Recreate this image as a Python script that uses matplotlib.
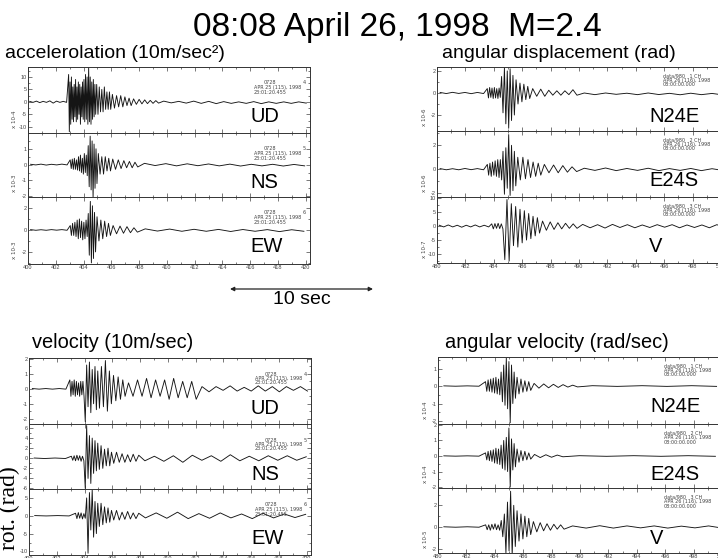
import matplotlib
matplotlib.use("Agg")
import matplotlib.pyplot as plt
import numpy as np
from matplotlib.ticker import MultipleLocator

W, H = 718, 558

title = "08:08 April 26, 1998  M=2.4"

# each trace: (t_start, t_end, peak values) segments
acc_ud = [
    (400.0, 402.9, [0.2, -0.2, 0.3, -0.3, 0.2, -0.2, 0.4, -0.5, 0.3, -0.2, 0.2, -0.2]),
    (402.9, 403.3, [11, -12, 8, -9, 10, -7, 6, -8]),
    (403.3, 404.0, [7, -6, 9, -8, 6, -7, 8, -5, 7, -9, 6, -6, 8, -7]),
    (404.0, 404.9, [9, -8, 11, -7, 10, -9, 14, -8, 10, -9, 8, -7, 9, -6, 7, -5]),
    (404.9, 406.0, [7, -5, 6, -4, 5, -4, 6, -3, 4, -3, 4, -3]),
    (406.0, 407.5, [3, -2.5, 2.5, -2, 2.5, -2, 2, -1.5, 1.5, -1.5]),
    (407.5, 409.5, [1.2, -1, 1, -0.8, 0.8, -0.7, 0.6, -0.6, 0.5, -0.5]),
    (409.5, 420.3, [0.3, -0.4, 0.2, -0.5, 0.3, -0.6, 0.2, -0.7, 0.1, -0.6,
                    0.0, -0.6, 0.1, -0.7, 0.0, -0.6, 0.0, -0.6, 0.0, -0.5]),
]
acc_ns = [
    (400.0, 403.0, [0.02, -0.02, 0.03, -0.03, 0.02, -0.02, 0.03, -0.02]),
    (403.0, 403.6, [0.3, -0.25, 0.35, -0.3, 0.4, -0.3, 0.3, -0.35]),
    (403.6, 404.3, [0.5, -0.4, 0.6, -0.5, 0.4, -0.6, 0.7, -0.5, 0.6, -0.7]),
    (404.3, 405.0, [1.2, -1.4, 1.8, -1.6, 1.5, -2.1, 1.3, -1.5, 1.0, -1.2]),
    (405.0, 406.0, [0.7, -0.6, 0.5, -0.6, 0.5, -0.4, 0.4, -0.4]),
    (406.0, 408.0, [0.35, -0.3, 0.3, -0.25, 0.25, -0.2, 0.2, -0.2, 0.15, -0.15]),
    (408.0, 420.3, [0.08, -0.06, 0.06, -0.08, 0.05, -0.07, 0.04, -0.08,
                    0.03, -0.09, 0.02, -0.08, 0.02, -0.09, 0.01, -0.08]),
]
acc_ew = [
    (400.0, 403.0, [0.03, -0.03, 0.02, -0.03, 0.03, -0.02, 0.03, -0.03]),
    (403.0, 403.5, [0.4, -0.5, 0.6, -0.5, 0.7, -0.6]),
    (403.5, 404.3, [0.9, -0.8, 1.0, -0.7, 0.8, -0.9, 0.7, -0.8, 0.9, -0.6]),
    (404.3, 404.9, [1.5, -2.3, 2.6, -3.0, 2.2, -2.6, 1.6, -2.0]),
    (404.9, 406.0, [1.2, -1.0, 0.9, -0.8, 0.8, -0.6, 0.6, -0.5]),
    (406.0, 408.0, [0.4, -0.35, 0.35, -0.3, 0.3, -0.25, 0.2, -0.2]),
    (408.0, 420.3, [0.1, -0.1, 0.08, -0.12, 0.06, -0.12, 0.05, -0.14,
                    0.04, -0.12, 0.03, -0.15, 0.02, -0.12]),
]

disp_n24e = [
    (480.0, 483.5, [0.05, -0.05, 0.06, -0.04, 0.05, -0.06, 0.05, -0.05]),
    (483.5, 484.5, [0.4, -0.45, 0.5, -0.4, 0.45, -0.5, 0.5, -0.45, 0.4, -0.5, 0.45, -0.4]),
    (484.5, 485.5, [1.5, -1.8, 2.3, -2.8, 2.0, -3.2, 2.2, -2.5, 1.6, -2.0]),
    (485.5, 486.6, [1.2, -1.0, 0.9, -0.8, 0.8, -0.6, 0.6, -0.5]),
    (486.6, 490.0, [0.4, -0.3, 0.35, -0.3, 0.25, -0.2, 0.2, -0.2, 0.2, -0.15, 0.3, -0.2]),
    (490.0, 500.5, [0.0, -0.15, 0.0, -0.12, -0.02, -0.15, 0.0, -0.14,
                    -0.03, -0.16, -0.02, -0.15, -0.04, -0.17]),
]
disp_e24s = [
    (480.0, 483.5, [0.05, -0.05, 0.04, -0.05, 0.06, -0.04, 0.05, -0.05]),
    (483.5, 484.6, [0.4, -0.5, 0.5, -0.6, 0.6, -0.5, 0.7, -0.6, 0.8, -0.7, 0.8, -0.9]),
    (484.6, 485.6, [1.5, -2.1, 1.8, -1.6, 2.9, -2.2, 2.0, -1.8, 1.5, -1.4]),
    (485.6, 487.4, [1.0, -0.9, 1.0, -0.8, 0.8, -0.7, 0.6, -0.6, 0.5, -0.5]),
    (487.4, 490.0, [0.4, -0.3, 0.35, -0.3, 0.3, -0.25, 0.2, -0.2]),
    (490.0, 500.5, [0.08, -0.1, 0.1, -0.12, 0.06, -0.1, 0.08, -0.12,
                    0.05, -0.1, 0.06, -0.12, 0.04, -0.1]),
]
disp_v = [
    (480.0, 483.8, [0.3, -0.3, 0.4, -0.3, 0.3, -0.4, 0.3, -0.3, 0.4, -0.3, 0.3, -0.3]),
    (483.8, 484.7, [0.8, -1.0, 0.9, -0.8, 1.0, -0.9, 0.8, -1.0]),
    (484.7, 487.3, [-12, 9.5, -12.5, 8, -7, 7, -7.5, 6, -6, 5.5, -5, 4.5,
                    -4.5, 3.5, -3.5, 3, -2.5]),
    (487.3, 490.0, [1.8, -1.5, 1.5, -1.2, 1.2, -1.0, 1.0, -0.8, 0.8, -0.8]),
    (490.0, 500.5, [0.6, -0.6, 0.5, -0.7, 0.6, -0.5, 0.5, -0.6, 0.4, -0.5,
                    0.5, -0.4, 0.5, -0.6, 0.4, -0.5, 0.4, -0.6, 0.5, -0.4]),
]

vel_ud = [
    (400.0, 402.9, [0.02, -0.02, 0.02, -0.02, 0.02, -0.02]),
    (402.9, 404.0, [0.6, -0.5, 0.5, -0.4, 0.6, -0.5, 0.5, -0.4, 0.4, -0.5, 0.5, -0.4, 0.5, -0.5]),
    (404.0, 405.0, [-2.2, 1.6, -1.2, 1.8, -1.6, 1.3, -1.0, 1.5, -1.4, 1.2]),
    (405.0, 406.0, [-1.3, 1.5, -1.2, 1.9, -1.5, 1.2, -1.0]),
    (406.0, 407.0, [0.9, -0.8, 0.8, -0.7, 0.6, -0.5]),
    (407.0, 412.2, [0.4, -0.5, 0.6, -0.5, 0.7, -0.6, 0.6, -0.5, 0.6, -0.7,
                    0.7, -0.6, 0.5, -0.6, 0.5, -0.7]),
    (412.2, 420.3, [0.15, -0.2, 0.15, -0.1, 0.2, -0.15, 0.1, -0.15, 0.2, -0.15,
                    0.15, -0.2, 0.15, -0.1, 0.15, -0.15]),
]
vel_ns = [
    (400.0, 403.0, [0.05, -0.05, 0.05, -0.05]),
    (403.0, 404.0, [0.4, -0.4, 0.5, -0.5, 0.6, -0.4, 0.5, -0.6, 0.4, -0.5]),
    (404.0, 405.0, [-6, 6.5, -4, 4.5, -5, 4, -3, 3.5, -2.5, 3]),
    (405.0, 406.0, [-2.2, 2.5, -2, 1.8, -1.5, 2, -1.5, 1.2]),
    (406.0, 408.0, [-1, 1.2, -0.8, 0.9, -0.8, 0.7, -0.7, 0.8, -0.6, 0.6]),
    (408.0, 420.3, [-0.5, 0.4, -0.6, 0.5, -0.8, 0.6, -0.4, 0.5, -0.6, 0.7,
                    -0.5, 0.4, -0.5, 0.5, -0.4, 0.5, -0.4, 0.3]),
]
vel_ew = [
    (400.0, 403.3, [0.05, -0.05, 0.05, -0.05]),
    (403.3, 404.1, [0.7, -0.8, 0.9, -0.7, 0.8, -0.9, 0.6, -0.7]),
    (404.1, 405.0, [5, -10.5, 6.5, -4, 7.2, -6, 4, -5, 3.5]),
    (405.0, 406.0, [-3, 3.5, -2.5, 2.5, -2, 2.2, -1.8, 1.5]),
    (406.0, 408.0, [-1.2, 1.5, -1.2, 1.0, -1.0, 1.2, -0.9, 0.8, -0.8, 0.7]),
    (408.0, 420.3, [-0.6, 0.8, -0.7, 1.0, -0.8, 0.6, -0.7, 0.8, -0.6, 0.5,
                    -0.8, 0.7, -0.6, 0.5, -0.5, 0.4]),
]

angvel_n24e = [
    (480.0, 483.3, [0.01, -0.01, 0.01, -0.01]),
    (483.3, 484.4, [0.25, -0.3, 0.35, -0.3, 0.4, -0.35, 0.45, -0.4, 0.5, -0.45, 0.4, -0.5]),
    (484.4, 485.5, [0.8, -0.9, 1.2, -1.1, 1.6, -1.3, 1.4, -2.1, 1.2, -1.0, 0.8, -0.7]),
    (485.5, 486.6, [0.5, -0.45, 0.4, -0.35, 0.3, -0.3, 0.25, -0.25]),
    (486.6, 490.0, [0.15, -0.12, 0.12, -0.1, 0.1, -0.08, 0.08, -0.06, 0.05, -0.05]),
    (490.0, 500.5, [0.02, -0.02, 0.02, -0.02, 0.02, -0.02]),
]
angvel_e24s = [
    (480.0, 483.3, [0.01, -0.01, 0.01, -0.01]),
    (483.3, 484.4, [0.2, -0.25, 0.3, -0.3, 0.35, -0.35, 0.4, -0.45, 0.5, -0.5, 0.45, -0.55]),
    (484.4, 485.5, [0.7, -0.8, 1.0, -0.9, 1.2, -1.0, 1.8, -2.0, 1.1, -0.9, 0.8, -0.7]),
    (485.5, 486.6, [0.45, -0.4, 0.35, -0.3, 0.3, -0.25, 0.2, -0.2]),
    (486.6, 489.0, [0.1, -0.1, 0.08, -0.08, 0.06, -0.05]),
    (489.0, 500.5, [0.02, -0.02, 0.02, -0.02, 0.02, -0.02]),
]
angvel_v = [
    (480.0, 483.3, [0.02, -0.02, 0.02, -0.02]),
    (483.3, 484.4, [0.2, -0.25, 0.2, -0.3, 0.25, -0.2, 0.3, -0.25, 0.2, -0.3]),
    (484.4, 485.5, [0.6, -0.9, 1.2, -2.4, 2.3, -2.2, 3.3, -2.6, 2.0, -1.8]),
    (485.5, 486.6, [1.5, -1.3, 1.2, -1.1, 1.0, -0.9, 0.8, -0.7]),
    (486.6, 489.0, [0.5, -0.45, 0.4, -0.35, 0.3, -0.3, 0.25, -0.2, 0.2, -0.2]),
    (489.0, 500.5, [0.1, -0.1, 0.12, -0.1, 0.1, -0.08, 0.1, -0.1, 0.08, -0.08, 0.1, -0.1]),
]

section_titles = ["accelerolation (10m/sec²)", "angular displacement (rad)",
                  "velocity (10m/sec)", "angular velocity (rad/sec)"]
trans_channels = ["UD", "NS", "EW"]
rot_channels = ["N24E", "E24S", "V"]

acc_ylims = [(-12.5, 14), (-2.05, 2.0), (-3.1, 3.0)]
acc_yticks = [[-10, -5, 0, 5, 10], [-2, -1, 0, 1], [-2, 0, 2]]
disp_ylims = [(-3.45, 2.36), (-2.33, 3.2), (-13.2, 10.4)]
disp_yticks = [[-2, 0, 2], [-2, 0, 2], [-10, -5, 0, 5, 10]]
vel_ylims = [(-2.36, 2.07), (-6.1, 6.8), (-11, 7.5)]
vel_yticks = [[-2, -1, 0, 1, 2], [-6, -4, -2, 0, 2, 4, 6], [-10, -5, 0, 5]]
angvel_ylims = [(-2.17, 1.66), (-2.06, 2.06), (-2.4, 3.6)]
angvel_yticks = [[-2, -1, 0, 1], [-2, -1, 0, 1, 2], [-2, 0, 2]]

acc_units = ["x 10-4", "x 10-3", "x 10-3"]
disp_units = ["x 10-6", "x 10-6", "x 10-7"]
angvel_units = ["x 10-4", "x 10-4", "x 10-5"]

trans_info = ["4", "5", "6"]
rot_info = ["1", "2", "3"]

plt.rcParams["font.family"] = ["Liberation Sans", "DejaVu Sans"]
plt.rcParams["axes.unicode_minus"] = False

fig = plt.figure(figsize=(W / 100, H / 100), dpi=100)
fig.patch.set_facecolor("white")


def fx(px):
    return px / W


def fy(py):
    return 1 - py / H


def build_trace(segments):
    t, v = [], []
    for t0, t1, peaks in segments:
        n = len(peaks)
        step = (t1 - t0) / n
        t.extend(t0 + step * (np.arange(n) + 0.5))
        v.extend(peaks)
    return np.array(t), np.array(v)


quadrants = [
    dict(left=28, width=282, bounds=[67, 133, 197, 264], xlim=(400, 420.3),
         traces=[acc_ud, acc_ns, acc_ew], ylims=acc_ylims, yticks=acc_yticks,
         units=acc_units, names=trans_channels, kind="trans"),
    dict(left=437, width=291, bounds=[67, 131, 197, 263], xlim=(480, 500.5),
         traces=[disp_n24e, disp_e24s, disp_v], ylims=disp_ylims, yticks=disp_yticks,
         units=disp_units, names=rot_channels, kind="rot"),
    dict(left=29, width=282, bounds=[358, 424, 489, 555], xlim=(400, 420.3),
         traces=[vel_ud, vel_ns, vel_ew], ylims=vel_ylims, yticks=vel_yticks,
         units=None, names=trans_channels, kind="trans"),
    dict(left=438, width=291, bounds=[357, 424, 488, 553], xlim=(480, 500.5),
         traces=[angvel_n24e, angvel_e24s, angvel_v], ylims=angvel_ylims,
         yticks=angvel_yticks, units=angvel_units, names=rot_channels, kind="rot"),
]

ink = "#151515"

for q in quadrants:
    for i in range(3):
        top, bot = q["bounds"][i], q["bounds"][i + 1]
        ax = fig.add_axes([fx(q["left"]), fy(bot), q["width"] / W, (bot - top) / H])
        t, v = build_trace(q["traces"][i])
        ax.plot(t, v, color=ink, lw=0.65)
        ax.set_xlim(*q["xlim"])
        ax.set_ylim(*q["ylims"][i])
        ax.xaxis.set_major_locator(MultipleLocator(2))
        ax.xaxis.set_minor_locator(MultipleLocator(1))
        ticks = q["yticks"][i]
        ax.set_yticks(ticks)
        ax.yaxis.set_minor_locator(MultipleLocator((ticks[1] - ticks[0]) / 2))
        ax.tick_params(which="both", direction="in", top=True, right=True,
                       labelsize=4, pad=1, width=0.5, colors="#444",
                       labelbottom=(i == 2))
        ax.tick_params(which="major", length=3)
        ax.tick_params(which="minor", length=1.5)
        for sp in ax.spines.values():
            sp.set_linewidth(0.7)
            sp.set_color("#333")

        # channel name and header text
        if q["kind"] == "trans":
            name_x, info_x = q["left"] + 222, q["left"] + 226
            fig.text(fx(info_x + 10), fy(top + 16), "0728", fontsize=3.5,
                     family="DejaVu Sans", color="#444", va="center")
            fig.text(fx(info_x + 52), fy(top + 16), trans_info[i], fontsize=3.5,
                     family="DejaVu Sans", color="#444", va="center", ha="right")
            fig.text(fx(info_x), fy(top + 20.5), "APR 25 (115), 1998", fontsize=3.5,
                     family="DejaVu Sans", color="#444", va="center")
            fig.text(fx(info_x), fy(top + 25), "23:01:20.455", fontsize=3.5,
                     family="DejaVu Sans", color="#444", va="center")
        else:
            name_x, info_x = q["left"] + 212, q["left"] + 226
            fig.text(fx(info_x), fy(top + 9), f"data/980   {rot_info[i]} CH",
                     fontsize=3.5, family="DejaVu Sans", color="#444", va="center")
            fig.text(fx(info_x), fy(top + 13.5), "APR 26 (116), 1998", fontsize=3.5,
                     family="DejaVu Sans", color="#444", va="center")
            fig.text(fx(info_x), fy(top + 18), "08:00:00.000", fontsize=3.5,
                     family="DejaVu Sans", color="#444", va="center")
        fig.text(fx(name_x), fy(top + 50), q["names"][i], fontsize=14.5,
                 va="center", ha="left", color="black")

        if q["units"] is not None:
            fig.text(fx(q["left"] - 13), fy(bot - 14), q["units"][i], fontsize=4,
                     family="DejaVu Sans", rotation=90, va="center", ha="center",
                     color="#444")

fig.text(fx(397), fy(36), title, fontsize=24, ha="center", va="baseline")
fig.text(fx(5), fy(58), section_titles[0], fontsize=14, va="baseline")
fig.text(fx(442), fy(58), section_titles[1], fontsize=14, va="baseline")
fig.text(fx(32), fy(348), section_titles[2], fontsize=14.4, va="baseline")
fig.text(fx(445), fy(348), section_titles[3], fontsize=14.4, va="baseline")

fig.add_artist(plt.Annotation("", xy=(fx(373), fy(289)), xytext=(fx(230), fy(289)),
                              xycoords="figure fraction", textcoords="figure fraction",
                              arrowprops=dict(arrowstyle="<|-|>", lw=0.9, color="#222",
                                              mutation_scale=6, shrinkA=0, shrinkB=0)))
fig.text(fx(302), fy(300), "10 sec", fontsize=14, ha="center", va="center")

fig.text(fx(9), fy(508), "rot. (rad)", fontsize=17, family="Liberation Serif",
         rotation=90, ha="center", va="center")

fig.savefig("out.png", dpi=100, facecolor="white")
